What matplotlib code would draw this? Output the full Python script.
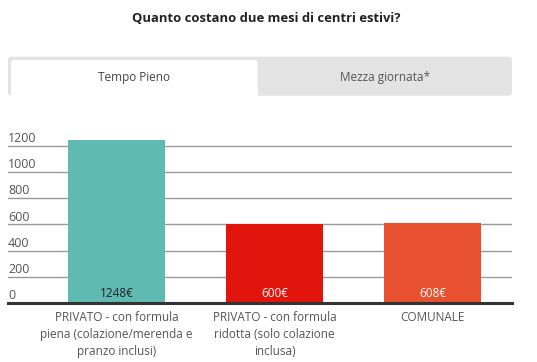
import matplotlib
matplotlib.use("Agg")
import matplotlib.pyplot as plt
from matplotlib.patches import FancyBboxPatch, Rectangle

# data
categories = ["PRIVATO - con formula\npiena (colazione/merenda e\npranzo inclusi)",
              "PRIVATO - con formula\nridotta (solo colazione\ninclusa)",
              "COMUNALE"]
values = [1248, 600, 608]
value_labels = ["1248€", "600€", "608€"]
yticks = [0, 200, 400, 600, 800, 1000, 1200]
tabs = ["Tempo Pieno", "Mezza giornata*"]

bar_colors = ["#5fbab2", "#e2150c", "#e8512f"]
label_colors = ["#222222", "#ffffff", "#ffffff"]

plt.rcParams['font.family'] = ['Open Sans', 'DejaVu Sans']

W, H = 537, 362
fig = plt.figure(figsize=(W / 100, H / 100), dpi=100)

def fx(px):
    return px / W

def fy(py):
    return 1 - py / H

# title
fig.text(fx(266), fy(18), "Quanto costano due mesi di centri estivi?",
         ha="center", va="center", fontsize=9.4, fontweight="bold", color="#222222")

# tab bar
gray = FancyBboxPatch((fx(8), fy(95.7)), fx(504), (95.7 - 56.7) / H,
                      boxstyle="round,pad=0,rounding_size=0.008",
                      transform=fig.transFigure, facecolor="#e3e3e3", edgecolor="none")
fig.patches.append(gray)
active = FancyBboxPatch((fx(11), fy(95.7)), fx(246.5), (95.7 - 60) / H,
                        boxstyle="round,pad=0,rounding_size=0.006",
                        transform=fig.transFigure, facecolor="white", edgecolor="none")
fig.patches.append(active)
fig.patches.append(Rectangle((fx(11), fy(95.7)), fx(246.5), 8 / H,
                             transform=fig.transFigure, facecolor="white", edgecolor="none"))
fig.text(fx(134), fy(77), tabs[0], ha="center", va="center", fontsize=8.5, color="#444444")
fig.text(fx(385), fy(77), tabs[1], ha="center", va="center", fontsize=8.5, color="#555555")

# chart area: x from 8 to 512 px, y 0 at 303 px, 200 units = 26.2 px
left_px, right_px = 8, 512
zero_px = 303
px_per_unit = 26.2 / 200
ymax = 1300
top_px = zero_px - ymax * px_per_unit
ax = fig.add_axes([fx(left_px), fy(zero_px), fx(right_px - left_px), (zero_px - top_px) / H])

spacing = 158.0
x0 = (116.5 - left_px) / spacing
xs = list(range(len(values)))
ax.set_xlim(-x0, -x0 + (right_px - left_px) / spacing)
ax.set_ylim(0, ymax)

for t in yticks[1:]:
    ax.axhline(t, color="#999999", lw=1, zorder=1)
ax.bar(xs, values, width=97 / spacing, color=bar_colors, zorder=2)
ax.axhline(0, color="#333333", lw=2.2, zorder=3, clip_on=False)

for t in yticks:
    ax.text(-x0, t + 6, str(t), ha="left", va="bottom", fontsize=9, color="#555555")

for x, lab, c in zip(xs, value_labels, label_colors):
    ax.text(x, 22, lab, ha="center", va="bottom", fontsize=8.5, color=c, zorder=4)

for x, cat in zip(xs, categories):
    ax.text(x, -58, cat, ha="center", va="top", fontsize=8.5, color="#555555",
            linespacing=1.42)

ax.axis("off")

fig.savefig("out.png", dpi=100)
